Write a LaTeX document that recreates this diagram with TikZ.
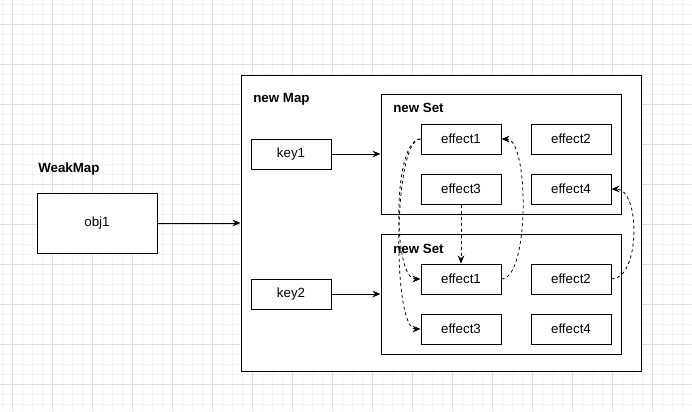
\documentclass[tikz,border=0pt]{standalone}
\usepackage{fontspec}
\setmainfont{Liberation Sans}
\usetikzlibrary{arrows.meta}

\definecolor{minorgrid}{RGB}{243,243,243}
\definecolor{majorgrid}{RGB}{222,222,222}

\begin{document}
\begin{tikzpicture}[x=0.75pt, y=-0.75pt,  % one unit is one pixel of the picture
    box/.style={draw, fill=white, line width=0.75pt, minimum width=60pt, minimum height=22.5pt, inner sep=0pt, font=\fontsize{10}{12}\selectfont},
    container/.style={draw, fill=white, line width=0.75pt, inner sep=0pt},
    title/.style={anchor=west, inner sep=0pt, font=\fontsize{10}{12}\selectfont\bfseries},
    link/.style={-{Stealth[length=6pt,width=5pt]}, line width=0.75pt},
    dep/.style={-{Stealth[length=6pt,width=5pt]}, line width=0.6pt, dash pattern=on 2.25pt off 2.25pt}]
    \useasboundingbox (0,0) rectangle (692,411);

    % Draw the background grid
    \foreach \x in {2,12,...,692} {
        \draw[minorgrid, line width=0.5pt] (\x,0) -- (\x,411);
    }
    \foreach \y in {4,14,...,411} {
        \draw[minorgrid, line width=0.5pt] (0,\y) -- (692,\y);
    }
    \foreach \x in {12,52,...,692} {
        \draw[majorgrid, line width=0.6pt] (\x,0) -- (\x,411);
    }
    \foreach \y in {24,64,...,411} {
        \draw[majorgrid, line width=0.6pt] (0,\y) -- (692,\y);
    }

    % WeakMap and its key
    \node[title] (weaktitle) at (38,169) {WeakMap};
    \node[box, minimum width=90pt, minimum height=45pt] (obj) at (97,223) {obj1};

    % The map with its keys and the two sets
    \node[container, minimum width=300pt, minimum height=222pt] (map) at (441,223) {};
    \node[title] (maptitle) at (253,99) {new Map};
    \node[box] (key1) at (291,154) {key1};
    \node[box] (key2) at (291,294) {key2};
    \node[container, minimum width=180pt, minimum height=90pt] (seta) at (501,154) {};
    \node[container, minimum width=180pt, minimum height=90pt] (setb) at (501,294) {};
    \node[title] (setatitle) at (393,108) {new Set};
    \node[title] (setbtitle) at (393,249) {new Set};

    % Draw the effects of each set
    \foreach \s/\y in {a/139, b/279} {
        \node[box] (e\s1) at (461,\y) {effect1};
        \node[box] (e\s2) at (571,\y) {effect2};
        \node[box] (e\s3) at (461,\y+50) {effect3};
        \node[box] (e\s4) at (571,\y+50) {effect4};
    }

    % Solid links
    \draw[link] (obj) -- (map);
    \draw[link] (key1) -- (seta);
    \draw[link] (key2) -- (setb);

    % Dashed links between the effects
    \draw[dep] (ea1.west) .. controls +(-28,0) and +(-28,0) .. (eb1.west);
    \draw[dep] (ea1.west) .. controls +(-28,0) and +(-28,0) .. (eb3.west);
    \draw[dep] (ea3.south) -- (eb1.north);
    \draw[dep] (eb1.east) .. controls +(28,0) and +(28,0) .. (ea1.east);
    \draw[dep] (eb2.east) .. controls +(29,0) and +(29,0) .. (ea4.east);

\end{tikzpicture}
\end{document}
